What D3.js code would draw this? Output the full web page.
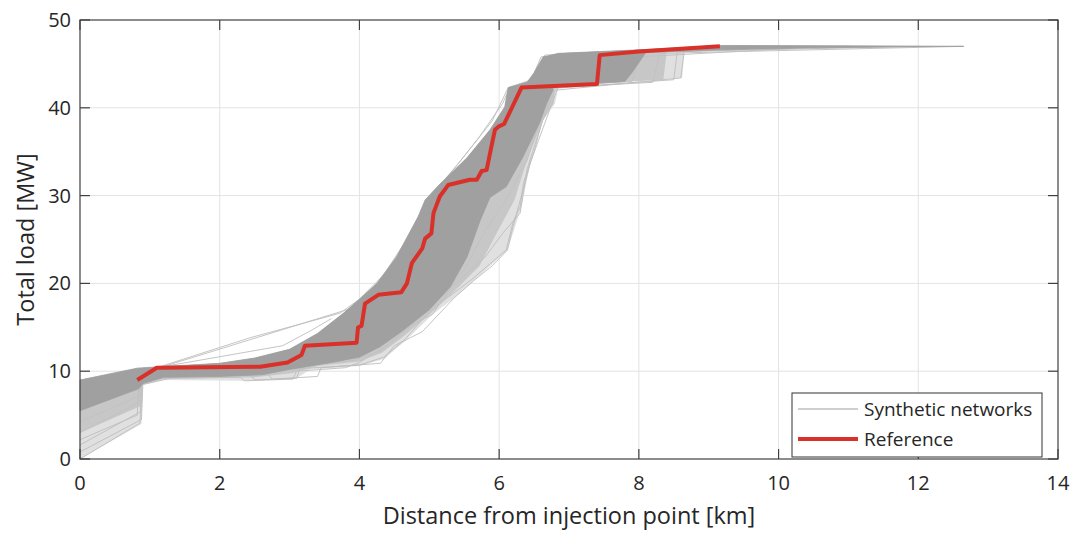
<!DOCTYPE html>
<html>
<head>
<meta charset="utf-8">
<script src="https://cdn.jsdelivr.net/npm/d3@7"></script>
<style>
  body { margin: 0; background: #fff; }
  svg { display: block; font-family: "Open Sans", "Noto Sans", sans-serif; }
  .tick-label { fill: #262626; font-size: 20px; }
  .axis-title { fill: #262626; font-size: 23.5px; }
  .legend-text { fill: #262626; font-size: 19px; }
</style>
</head>
<body>
<svg id="chart" width="1076" height="533"></svg>
<script>
// axis ticks
const xTicks = [0, 2, 4, 6, 8, 10, 12, 14]
const yTicks = [0, 10, 20, 30, 40, 50]

// reference network: distance [km] and cumulative load [MW]
const refDist = [0.82, 1.10, 2.58, 2.97, 3.17, 3.22, 3.96, 3.98, 4.03, 4.08, 4.27, 4.60, 4.68, 4.75, 4.90, 4.94, 5.03, 5.06, 5.15, 5.27, 5.58, 5.68, 5.75, 5.82, 5.89, 5.94, 5.99, 6.07, 6.32, 7.40, 7.44, 8.00, 9.16]
const refLoad = [9.0, 10.4, 10.5, 11.0, 11.85, 12.9, 13.25, 15.0, 15.15, 17.7, 18.7, 19.0, 20.0, 22.3, 24.0, 25.1, 25.7, 28.0, 29.9, 31.2, 31.8, 31.8, 32.8, 32.9, 35.6, 37.5, 37.85, 38.15, 42.3, 42.7, 46.0, 46.4, 47.0]

// dense core of the synthetic ensemble: early (upper-left) edge and late (lower-right) edge
const denseUpper = [[0, 9.0], [0.82, 10.35], [1.12, 10.5], [2.0, 10.9], [2.5, 11.5], [3.0, 12.5], [3.4, 14.3], [3.77, 16.6], [4.0, 18.2], [4.25, 20.0], [4.53, 23.0], [4.84, 27.6], [4.94, 29.5], [5.15, 31.3], [5.54, 34.3], [5.87, 37.5], [6.08, 40.1], [6.13, 42.3], [6.40, 42.9], [6.50, 44.0], [6.63, 45.8], [6.85, 46.2], [8.0, 46.6], [9.2, 47.1], [11.5, 47.05], [12.65, 47.0]]
const denseLower = [[12.65, 47.0], [11.7, 46.95], [10.3, 46.8], [9.2, 46.6], [8.1, 46.3], [7.9, 44.0], [7.8, 43.0], [7.4, 42.8], [6.77, 42.6], [6.77, 42.0], [6.68, 40.5], [6.58, 38.3], [6.34, 34.4], [6.1, 31.0], [5.87, 29.8], [5.73, 27.2], [5.54, 23.0], [5.30, 19.6], [5.0, 17.0], [4.6, 14.5], [4.3, 12.8], [4.0, 11.6], [3.6, 11.0], [3.0, 10.2], [2.6, 9.6], [2.0, 9.4], [1.2, 9.3], [0.9, 8.6], [0.84, 8.0], [0, 5.5]]

// medium-density fringe (late edge)
const midLower = [[12.65, 47.0], [9.5, 46.7], [8.4, 46.4], [8.35, 43.2], [7.6, 42.85], [6.8, 42.55], [6.78, 40.5], [6.62, 38.4], [6.4, 34.1], [6.22, 29.5], [5.95, 25.5], [5.72, 22.0], [5.42, 19.6], [5.05, 16.8], [4.62, 13.9], [4.32, 12.1], [4.0, 11.1], [3.4, 10.6], [3.05, 9.8], [2.5, 9.3], [1.2, 9.15], [0.9, 8.5], [0.86, 6.0], [0, 3.0]]

// outer limit of the sparse lines (late edge)
const sparseLower = [[12.65, 47.0], [9.8, 46.75], [8.65, 46.5], [8.62, 43.4], [8.0, 43.1], [7.4, 42.9], [6.85, 42.5], [6.8, 40.5], [6.62, 38.6], [6.45, 33.8], [6.32, 28.7], [6.12, 23.8], [5.65, 20.4], [5.35, 18.3], [5.05, 16.5], [4.65, 13.4], [4.35, 11.4], [4.0, 10.6], [3.3, 10.2], [3.1, 9.2], [2.4, 8.9], [1.2, 9.0], [0.9, 8.4], [0.88, 4.0], [0, 0]]

// individual synthetic networks standing out of the core
const synthA = [[0, 0], [0.86, 4.1], [0.88, 8.9], [1.3, 9.6], [2.8, 9.8], [3.0, 10.6], [3.9, 11.2], [4.3, 12.3], [4.7, 15.0], [5.05, 17.6], [5.5, 21.5], [5.8, 26.0], [6.1, 29.5], [6.4, 34.0], [6.6, 39.0], [6.75, 42.3], [8.2, 42.9], [8.3, 46.2], [12.65, 47.0]]
const synthB = [[0, 1.6], [0.87, 5.4], [0.89, 9.0], [1.5, 9.4], [2.45, 9.5], [2.5, 9.0], [3.1, 9.2], [3.15, 10.3], [4.0, 10.7], [4.35, 11.6], [4.65, 13.6], [5.0, 16.8], [5.6, 20.4], [6.1, 23.8], [6.2, 27.0], [6.3, 28.7], [6.35, 31.5], [6.5, 35.0], [6.62, 38.6], [6.8, 42.0], [8.6, 43.4], [8.65, 46.4], [9.8, 46.8]]
const synthC = [[0, 3.0], [0.84, 6.4], [0.86, 8.8], [1.1, 10.3], [3.9, 17.2], [4.2, 19.5], [4.6, 23.5], [4.9, 28.5], [5.2, 31.5], [5.7, 36.5], [6.05, 40.5], [6.15, 42.3], [6.45, 43.0], [6.6, 45.8], [8.0, 46.5], [9.5, 47.0]]
const synthD = [[0, 4.2], [0.85, 7.2], [0.87, 9.1], [1.1, 10.4], [2.43, 13.8], [3.72, 16.6], [4.0, 18.2], [4.35, 21.0], [4.8, 26.5], [5.0, 29.8], [5.4, 33.5], [5.9, 38.5], [6.13, 42.3], [6.5, 43.3], [6.65, 46.0], [8.5, 46.7], [11.0, 47.0]]
const synthE = [[0, 2.2], [0.82, 5.0], [0.84, 8.7], [1.2, 9.5], [2.7, 9.6], [2.75, 9.1], [3.4, 9.4], [3.45, 10.4], [4.3, 10.9], [4.5, 12.9], [4.9, 14.5], [5.35, 18.3], [5.65, 20.4], [5.9, 22.0], [6.12, 23.8], [6.2, 26.5], [6.45, 33.8], [6.55, 36.0], [6.85, 42.5], [7.9, 43.0], [8.0, 45.8], [10.5, 46.9]]
const synthF = [[0, 0.8], [0.88, 4.5], [0.9, 8.5], [1.3, 9.2], [2.3, 9.3], [2.35, 8.9], [3.05, 9.1], [3.1, 10.0], [3.8, 10.4], [4.0, 11.0], [4.4, 13.0], [4.8, 15.5], [5.05, 16.5], [5.3, 19.5], [5.8, 23.0], [6.05, 25.7], [6.3, 28.0], [6.4, 33.0], [6.7, 40.5], [6.75, 42.2], [8.5, 43.2], [8.55, 46.4], [12.0, 47.0]]
const synthG = [[0, 5.8], [0.83, 8.4], [0.85, 9.4], [1.1, 10.4], [2.9, 12.9], [3.3, 14.6], [3.6, 16.0]]

const synthLines = [synthA, synthB, synthC, synthD, synthE, synthF, synthG]

const plot = { left: 80, right: 1058, top: 20, bottom: 459 }

const svg = d3.select('#chart')

const x = d3.scaleLinear().domain([0, 14]).range([plot.left, plot.right])
const y = d3.scaleLinear().domain([0, 50]).range([plot.bottom, plot.top])

// grid
const grid = svg.append('g').attr('class', 'grid')
grid.selectAll('line.gx')
  .data(xTicks.slice(1, -1))
  .enter().append('line')
  .attr('x1', d => x(d)).attr('x2', d => x(d))
  .attr('y1', plot.top).attr('y2', plot.bottom)
  .attr('stroke', '#e3e3e3').attr('stroke-width', 1)
grid.selectAll('line.gy')
  .data(yTicks.slice(1, -1))
  .enter().append('line')
  .attr('x1', plot.left).attr('x2', plot.right)
  .attr('y1', d => y(d)).attr('y2', d => y(d))
  .attr('stroke', '#e3e3e3').attr('stroke-width', 1)

const line = d3.line().x(d => x(d[0])).y(d => y(d[1]))

const data = svg.append('g').attr('class', 'data')

// sparse outer haze of the ensemble
data.append('path')
  .datum(denseUpper.concat(sparseLower))
  .attr('d', d => line(d) + 'Z')
  .attr('fill', '#e0e0e0')
  .attr('stroke', 'none')

// individual synthetic networks
data.selectAll('path.synth')
  .data(synthLines)
  .enter().append('path')
  .attr('class', 'synth')
  .attr('d', line)
  .attr('fill', 'none')
  .attr('stroke', '#bdbdbd')
  .attr('stroke-width', 0.9)

// medium fringe
data.append('path')
  .datum(denseUpper.concat(midLower))
  .attr('d', d => line(d) + 'Z')
  .attr('fill', '#c2c2c2')
  .attr('fill-opacity', 0.85)
  .attr('stroke', 'none')

// dense core
data.append('path')
  .datum(denseUpper.concat(denseLower))
  .attr('d', d => line(d) + 'Z')
  .attr('fill', '#a0a0a0')
  .attr('stroke', '#a0a0a0')
  .attr('stroke-width', 0.8)

// reference network
const refPoints = refDist.map((d, i) => [d, refLoad[i]])
data.append('path')
  .datum(refPoints)
  .attr('d', line)
  .attr('fill', 'none')
  .attr('stroke', '#d9302a')
  .attr('stroke-width', 4)
  .attr('stroke-linejoin', 'round')

// axes box and inward ticks
const axisColor = '#404040'
const tickLen = 10
const frame = svg.append('g').attr('class', 'frame')
frame.append('rect')
  .attr('x', plot.left).attr('y', plot.top)
  .attr('width', plot.right - plot.left).attr('height', plot.bottom - plot.top)
  .attr('fill', 'none').attr('stroke', axisColor).attr('stroke-width', 1.2)

xTicks.forEach(t => {
  frame.append('line')
    .attr('x1', x(t)).attr('x2', x(t))
    .attr('y1', plot.bottom).attr('y2', plot.bottom - tickLen)
    .attr('stroke', axisColor).attr('stroke-width', 1.2)
  frame.append('line')
    .attr('x1', x(t)).attr('x2', x(t))
    .attr('y1', plot.top).attr('y2', plot.top + tickLen)
    .attr('stroke', axisColor).attr('stroke-width', 1.2)
})
yTicks.forEach(t => {
  frame.append('line')
    .attr('x1', plot.left).attr('x2', plot.left + tickLen)
    .attr('y1', y(t)).attr('y2', y(t))
    .attr('stroke', axisColor).attr('stroke-width', 1.2)
  frame.append('line')
    .attr('x1', plot.right).attr('x2', plot.right - tickLen)
    .attr('y1', y(t)).attr('y2', y(t))
    .attr('stroke', axisColor).attr('stroke-width', 1.2)
})

// tick labels
svg.append('g').selectAll('text')
  .data(xTicks)
  .enter().append('text')
  .attr('class', 'tick-label')
  .attr('x', d => x(d))
  .attr('y', plot.bottom + 31)
  .attr('text-anchor', 'middle')
  .text(d => d)

svg.append('g').selectAll('text')
  .data(yTicks)
  .enter().append('text')
  .attr('class', 'tick-label')
  .attr('x', plot.left - 9)
  .attr('y', d => y(d))
  .attr('dy', '0.35em')
  .attr('text-anchor', 'end')
  .text(d => d)

// axis titles
svg.append('text')
  .attr('class', 'axis-title')
  .attr('x', (plot.left + plot.right) / 2)
  .attr('y', 524)
  .attr('text-anchor', 'middle')
  .text('Distance from injection point [km]')

svg.append('text')
  .attr('class', 'axis-title')
  .attr('transform', `translate(34, ${(plot.top + plot.bottom) / 2}) rotate(-90)`)
  .attr('text-anchor', 'middle')
  .text('Total load [MW]')

// legend
const legend = svg.append('g').attr('transform', 'translate(792, 393)')
legend.append('rect')
  .attr('width', 250).attr('height', 64)
  .attr('fill', '#fff').attr('stroke', '#333').attr('stroke-width', 1)
const legendItems = [
  { label: 'Synthetic networks', color: '#a0a0a0', width: 1.2 },
  { label: 'Reference', color: '#d9302a', width: 4 }
]
legendItems.forEach((item, i) => {
  const cy = 16 + i * 30
  legend.append('line')
    .attr('x1', 6).attr('x2', 66)
    .attr('y1', cy).attr('y2', cy)
    .attr('stroke', item.color).attr('stroke-width', item.width)
  legend.append('text')
    .attr('class', 'legend-text')
    .attr('x', 72).attr('y', cy)
    .attr('dy', '0.35em')
    .text(item.label)
})
</script>
</body>
</html>
